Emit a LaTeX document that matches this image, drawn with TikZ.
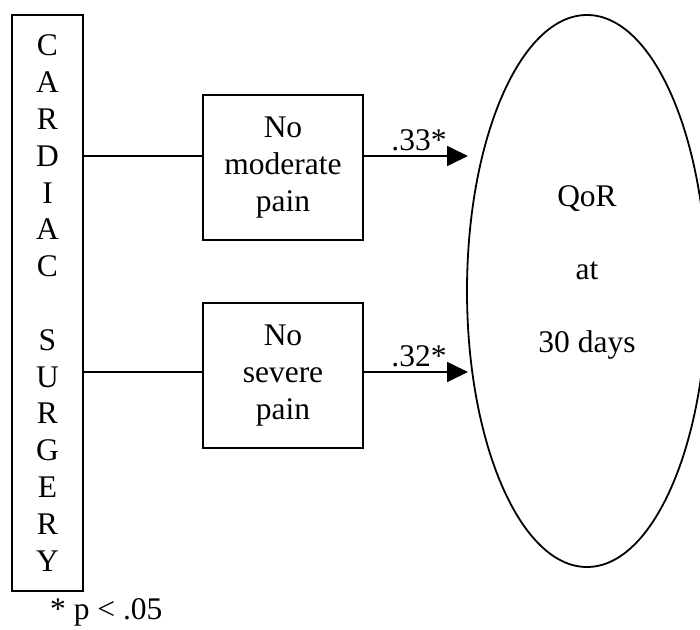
\documentclass[tikz,border=0pt]{standalone}
\usepackage{fontspec}
\setmainfont{Liberation Serif}
\usetikzlibrary{arrows.meta,shapes.geometric}
\begin{document}
\begin{tikzpicture}[x=1pt,y=-1pt,
  every node/.style={font=\fontsize{31.5}{36.8}\selectfont, inner sep=0pt},
  box/.style={draw, line width=1.6pt, align=center},
  link/.style={line width=1.7pt},
  effect/.style={link, -{Triangle[length=21pt,width=20pt]}},
  widelines/.style={font=\fontsize{31.5}{73}\selectfont, align=center}
]
\useasboundingbox (0,0) rectangle (700,629);
\clip (0,0) rectangle (700,629);

% exposure column
\node[box, minimum width=71pt, minimum height=576pt] (card) at (47.5,303)
  {C\\A\\R\\D\\I\\A\\C\\\mbox{}\\S\\U\\R\\G\\E\\R\\Y};

% mediators
\node[box, minimum width=160pt, minimum height=145pt] (mod) at (283,167.5) {No\\moderate\\pain};
\node[box, minimum width=160pt, minimum height=145pt] (sev) at (283,375.5) {No\\severe\\pain};

% outcome
\node[draw, ellipse, line width=1.8pt, minimum width=240pt, minimum height=552pt] (qor) at (587,291) {};
\node[widelines] (qortext) at (587,272.8) {QoR\\at\\30 days};

% connectors
\coordinate (m1) at ([yshift=11.5pt]mod.west);
\coordinate (m2) at ([yshift=11.5pt]mod.east);
\coordinate (s1) at ([yshift=3.5pt]sev.west);
\coordinate (s2) at ([yshift=3.5pt]sev.east);
\coordinate (tm) at (468,156);
\coordinate (ts) at (468,372);

\draw[link] (card.east |- m1) -- (m1);
\draw[link] (card.east |- s1) -- (s1);
\draw[effect] (m2) -- (tm);
\draw[effect] (s2) -- (ts);

\node[anchor=base] (lm) at (419,150) {.33*};
\node[anchor=base] (ls) at (419,366) {.32*};

\node[anchor=base west] (note) at (50,619) {* p < .05};
\end{tikzpicture}
\end{document}
